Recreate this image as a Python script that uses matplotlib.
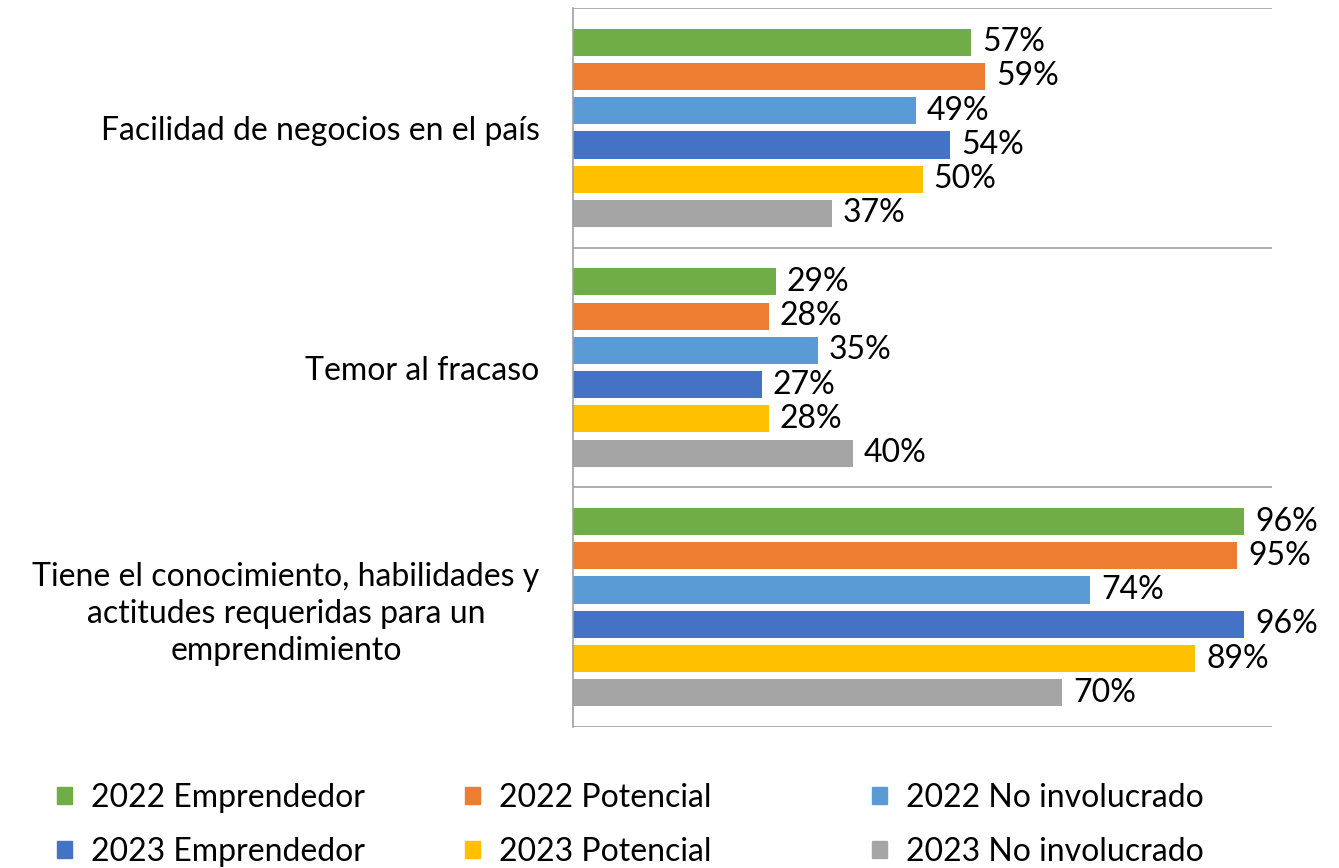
import matplotlib.pyplot as plt
import numpy as np
from matplotlib.patches import Patch

plt.rcParams['font.family'] = ['Lato', 'DejaVu Sans']

categorias = ["Facilidad de negocios en el país",
              "Temor al fracaso",
              "Tiene el conocimiento, habilidades y\nactitudes requeridas para un\nemprendimiento"]
series = ["2022 Emprendedor", "2022 Potencial", "2022 No involucrado",
          "2023 Emprendedor", "2023 Potencial", "2023 No involucrado"]
valores = [
    [57, 29, 96],  # 2022 Emprendedor
    [59, 28, 95],  # 2022 Potencial
    [49, 35, 74],  # 2022 No involucrado
    [54, 27, 96],  # 2023 Emprendedor
    [50, 28, 89],  # 2023 Potencial
    [37, 40, 70],  # 2023 No involucrado
]
colores = ["#70AD47", "#ED7D31", "#5B9BD5", "#4472C4", "#FFC000", "#A5A5A5"]

fs = 23
fig = plt.figure(figsize=(13.39, 8.68), dpi=100)
ax = fig.add_axes([573/1339, 1-727/868, (1272-573)/1339, (727-8)/868])

paso = 34/238
alto = 27/238
y = np.arange(len(categorias))
for i, (s, vals) in enumerate(zip(series, valores)):
    pos = y + (i - 2.5) * paso
    ax.barh(pos, np.array(vals)/100, height=alto, color=colores[i], label=s)
    for p, v in zip(pos, vals):
        ax.text(v/100 + 0.016, p, f"{v}%", va='center', ha='left', fontsize=fs)

ax.set_xlim(0, 1)
ax.set_ylim(2.5, -0.5)
ax.set_xticks([])
ax.set_yticks(y)
ax.set_yticklabels(categorias, fontsize=fs, multialignment='center', linespacing=1.3)
ax.tick_params(axis='y', length=0, pad=24)
for b in [-0.5, 0.5, 1.5, 2.5]:
    ax.axhline(b, color='#A0A0A0', lw=1.2, zorder=0)
for s in ['top', 'right', 'bottom']:
    ax.spines[s].set_visible(False)
ax.spines['left'].set_color('#A0A0A0')
ax.spines['left'].set_linewidth(1.2)

# leyenda en tres columnas separadas
xs = [57/1339, 465/1339, 872/1339]
for c in range(3):
    idx = [c, c + 3]
    handles = [Patch(color=colores[k]) for k in idx]
    fig.legend(handles, [series[k] for k in idx], loc='upper left',
               bbox_to_anchor=(xs[c], 1-783/868), frameon=False, fontsize=fs,
               handlelength=0.46, handleheight=0.46, handletextpad=0.6,
               labelspacing=0.74, borderpad=0, borderaxespad=0)

fig.savefig("out.png", dpi=100)
